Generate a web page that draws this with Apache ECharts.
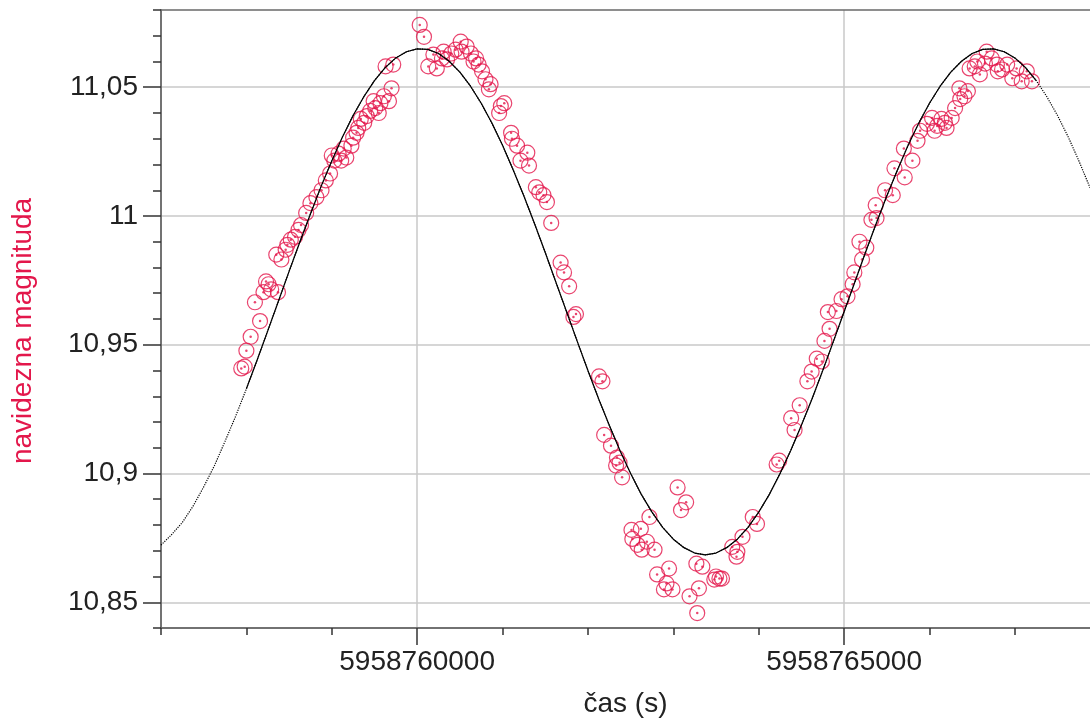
<!DOCTYPE html>
<html><head><meta charset="utf-8">
<script src="https://cdn.jsdelivr.net/npm/echarts@6/dist/echarts.min.js"></script>
<style>html,body{margin:0;padding:0;background:#fff}#c{width:1090px;height:726px}</style>
</head><body><div id="c"></div>
<script>
// observed points: time (s) and apparent magnitude
const obsTime = [
5958757940,5958757980,5958758000,5958758050,5958758160,5958758100,5958758200,5958758230,5958758290,5958758370,
5958758260,5958758410,5958758350,5958758460,5958758480,5958758520,5958758570,5958758610,5958758640,5958758700,
5958758750,5958758820,5958758880,5958758930,5958758980,5958759000,5958759030,5958759080,5958759110,5958759140,
5958759170,5958759230,5958759250,5958759290,5958759310,5958759340,5958759380,5958759410,5958759450,5958759490,
5958759510,5958759550,5958759570,5958759610,5958759670,5958759700,5958759630,5958759720,
5958760030,5958760080,5958760130,5958760230,5958760190,5958760290,5958760310,5958760350,5958760400,5958760450,
5958760510,5958760520,5958760580,5958760630,5958760660,5958760690,5958760720,5958760760,5958760800,5958760860,
5958760840,5958761020,5958760980,5958760960,5958761100,5958761110,5958761170,5958761290,5958761210,5958761310,
5958761390,5958761430,5958761480,5958761520,5958761570,5958761680,5958761720,5958761780,5958761860,5958761830,
5958762130,5958762170,5958762190,5958762270,5958762340,5958762370,5958762330,5958762400,5958763050,5958763150,
5958763090,5958762720,5958762510,5958762620,5958762520,5958762580,5958762690,5958762780,5958762630,5958763930,
5958763980,5958763810,5958763690,5958763750,5958763740,5958763270,5958763340,5958762950,5958762810,5958762920,
5958763500,5958763540,5958763570,5958763480,5958762890,5958762990,5958763300,5958763190,5958763280,
5958764210,5958764240,5958764380,5958764420,5958764480,5958764570,5958764620,5958764680,5958764740,5958764770,
5958764830,5958764810,5958764910,5958764970,5958765040,5958765100,5958765120,5958765210,5958765180,5958765260,
5958765320,5958765380,5958765370,5958765480,5958765570,5958765590,5958765710,5958765800,
5958765700,5958765860,5958765890,5958765970,5958766030,5958766060,5958766090,5958766140,5958766180,5958766200,
5958766260,5958766300,5958766360,5958766350,5958766410,5958766450,5958766470,5958766530,5958766560,5958766590,
5958766650,5958766670,5958766730,5958766790,5958766800,5958766850,5958766910,5958766970,5958767020,5958767080,
5958767140,5958767200
];
const obsMag = [
10.9408,10.9415,10.9477,10.9531,10.9592,10.9665,10.9704,10.9746,10.9715,10.9704,
10.9735,10.9831,10.9850,10.9869,10.9888,10.9908,10.9919,10.9946,10.9965,11.0012,
11.0050,11.0073,11.0100,11.0138,11.0165,11.0235,11.0215,11.0242,11.0215,11.0262,
11.0227,11.0273,11.0304,11.0323,11.0342,11.0377,11.0362,11.0388,11.0408,11.0446,
11.0419,11.0400,11.0438,11.0465,11.0446,11.0496,11.0581,11.0588,
11.0742,11.0696,11.0581,11.0573,11.0627,11.0612,11.0638,11.0608,11.0631,11.0646,
11.0677,11.0638,11.0658,11.0631,11.0600,11.0612,11.0588,11.0562,11.0531,11.0512,
11.0492,11.0438,11.0427,11.0400,11.0323,11.0300,11.0273,11.0246,11.0215,11.0196,
11.0112,11.0092,11.0081,11.0054,10.9973,10.9819,10.9781,10.9727,10.9619,10.9608,
10.9377,10.9358,10.9150,10.9108,10.9062,10.9042,10.9031,10.8985,10.8946,10.8888,
10.8858,10.8831,10.8781,10.8785,10.8746,10.8723,10.8735,10.8704,10.8704,10.8831,
10.8804,10.8754,10.8715,10.8696,10.8677,10.8650,10.8638,10.8631,10.8608,10.8573,
10.8600,10.8592,10.8592,10.8588,10.8550,10.8550,10.8554,10.8523,10.8458,
10.9035,10.9050,10.9215,10.9169,10.9265,10.9358,10.9396,10.9446,10.9435,10.9515,
10.9562,10.9627,10.9631,10.9677,10.9688,10.9735,10.9781,10.9831,10.9900,10.9877,
10.9985,10.9992,11.0042,11.0100,11.0081,11.0185,11.0150,11.0215,
11.0262,11.0292,11.0331,11.0358,11.0381,11.0331,11.0350,11.0377,11.0362,11.0342,
11.0381,11.0419,11.0454,11.0496,11.0465,11.0485,11.0573,11.0581,11.0600,11.0550,
11.0592,11.0638,11.0612,11.0588,11.0562,11.0569,11.0588,11.0535,11.0573,11.0523,
11.0562,11.0523
];
// fitted curve
const fitTime = [
5958757000,5958757125,5958757250,5958757375,5958757500,5958757625,5958757750,5958757875,
5958758000,5958758125,5958758250,5958758375,5958758500,5958758625,5958758750,5958758875,
5958759000,5958759125,5958759250,5958759375,5958759500,5958759625,5958759750,5958759875,
5958760000,5958760125,5958760250,5958760375,5958760500,5958760625,5958760750,5958760875,
5958761000,5958761125,5958761250,5958761375,5958761500,5958761625,5958761750,5958761875,
5958762000,5958762125,5958762250,5958762375,5958762500,5958762625,5958762750,5958762875,
5958763000,5958763125,5958763250,5958763375,5958763500,5958763625,5958763750,5958763875,
5958764000,5958764125,5958764250,5958764375,5958764500,5958764625,5958764750,5958764875,
5958765000,5958765125,5958765250,5958765375,5958765500,5958765625,5958765750,5958765875,
5958766000,5958766125,5958766250,5958766375,5958766500,5958766625,5958766750,5958766875,
5958767000,5958767125,5958767250,5958767375,5958767500,5958767625,5958767750,5958767880
];
const fitMag = [
10.8722,10.8763,10.8810,10.8873,10.8948,10.9030,10.9125,10.9223,
10.9329,10.9440,10.9554,10.9669,10.9785,10.9898,11.0008,11.0115,
11.0214,11.0307,11.0390,11.0463,11.0526,11.0576,11.0614,11.0638,
11.0649,11.0647,11.0631,11.0601,11.0559,11.0504,11.0438,11.0361,
11.0275,11.0179,11.0078,10.9970,10.9858,10.9743,10.9628,10.9513,
10.9400,10.9290,10.9187,10.9089,10.9000,10.8919,10.8850,10.8791,
10.8745,10.8712,10.8691,10.8684,10.8691,10.8712,10.8745,10.8791,
10.8850,10.8919,10.9000,10.9089,10.9187,10.9290,10.9400,10.9513,
10.9628,10.9743,10.9858,10.9970,11.0078,11.0179,11.0275,11.0361,
11.0438,11.0504,11.0559,11.0601,11.0631,11.0647,11.0649,11.0638,
11.0614,11.0576,11.0526,11.0463,11.0390,11.0307,11.0214,11.0110
];
const fitSolidFrom = 5958758000;
const fitSolidTo = 5958767250;
// axes
const xMin = 5958757000, xMax = 5958767880;
const yMin = 10.84, yMax = 11.08;
const xMajorTicks = [5958760000, 5958765000];
const xMinorTicks = [5958757000,5958758000,5958759000,5958760000,5958761000,5958762000,5958763000,5958764000,5958765000,5958766000,5958767000];
const yMajorTicks = [10.85, 10.9, 10.95, 11, 11.05];
const yMinorTicks = [10.84,10.85,10.86,10.87,10.88,10.89,10.9,10.91,10.92,10.93,10.94,10.95,10.96,10.97,10.98,10.99,11,11.01,11.02,11.03,11.04,11.05,11.06,11.07,11.08];
const xTitle = 'čas (s)';
const yTitle = 'navidezna magnituda';

const RED = '#e3174b';
const FONT = '"Liberation Sans", Arial, sans-serif';
const gridBox = {left:161, right:0, top:10, bottom:98, containLabel:false, outerBoundsMode:'none'};
const axisLineStyle = {color:'#6a6a6a', width:1.5};

const chart = echarts.init(document.getElementById('c'), null, {renderer:'canvas'});
const pairs = (ts, vs) => ts.map((t,i)=>[t, vs[i]]);
chart.setOption({
  animation:false,
  backgroundColor:'#ffffff',
  grid:[Object.assign({}, gridBox), Object.assign({}, gridBox)],
  xAxis:[
    {type:'value', gridIndex:0, min:xMin, max:xMax, position:'bottom',
     axisLine:{show:true, onZero:false, lineStyle:axisLineStyle},
     axisTick:{show:true, customValues:xMinorTicks, length:7, lineStyle:{color:'#333', width:1.5}},
     axisLabel:{show:false}, splitLine:{show:false}},
    {type:'value', gridIndex:1, min:xMin, max:xMax, position:'bottom',
     name:xTitle, nameLocation:'middle', nameGap:62, nameMoveOverlap:false,
     nameTextStyle:{color:'#222', fontSize:28, fontFamily:FONT},
     axisLine:{show:true, onZero:false, lineStyle:axisLineStyle},
     axisTick:{show:true, customValues:xMajorTicks, length:17, lineStyle:{color:'#333', width:1.5}},
     axisLabel:{show:true, customValues:xMajorTicks, margin:20, color:'#222', fontSize:28, fontFamily:FONT,
       formatter:v=>String(v)},
     splitLine:{show:true, lineStyle:{color:'#c8c8c8', width:1.5}}},
    {type:'value', gridIndex:1, min:xMin, max:xMax, position:'top',
     axisLine:{show:true, onZero:false, lineStyle:axisLineStyle},
     axisTick:{show:false}, axisLabel:{show:false}, splitLine:{show:false}}
  ],
  yAxis:[
    {type:'value', gridIndex:0, min:yMin, max:yMax, position:'left',
     axisLine:{show:true, onZero:false, lineStyle:axisLineStyle},
     axisTick:{show:true, customValues:yMinorTicks, length:8, lineStyle:{color:'#333', width:1.5}},
     axisLabel:{show:false}, splitLine:{show:false}},
    {type:'value', gridIndex:1, min:yMin, max:yMax, position:'left',
     name:yTitle, nameLocation:'middle', nameGap:124, nameMoveOverlap:false,
     nameTextStyle:{color:RED, fontSize:28, fontFamily:FONT, padding:[0,24,0,0]},
     axisLine:{show:true, onZero:false, lineStyle:axisLineStyle},
     axisTick:{show:true, customValues:yMajorTicks, length:18, lineStyle:{color:'#333', width:1.5}},
     axisLabel:{show:true, customValues:yMajorTicks, margin:23, color:'#222', fontSize:28, fontFamily:FONT,
       formatter:v=>String(Math.round(v*100)/100).replace('.', ',')},
     splitLine:{show:true, lineStyle:{color:'#c8c8c8', width:1.5}}}
  ],
  series:[
    {type:'scatter', xAxisIndex:1, yAxisIndex:1, data:pairs(obsTime, obsMag), symbol:'circle', symbolSize:15,
     itemStyle:{color:'rgba(0,0,0,0)', borderColor:RED, borderWidth:1.2}, silent:true, z:2},
    {type:'scatter', xAxisIndex:1, yAxisIndex:1, data:pairs(obsTime, obsMag), symbol:'circle', symbolSize:2.5,
     itemStyle:{color:RED}, silent:true, z:2},
    {type:'line', xAxisIndex:1, yAxisIndex:1, data:pairs(fitTime, fitMag), smooth:false, symbol:'none',
     lineStyle:{color:'#000', width:1.2, type:'dotted'}, silent:true, z:3},
    {type:'line', xAxisIndex:1, yAxisIndex:1,
     data:pairs(fitTime, fitMag).filter(p=>p[0]>=fitSolidFrom && p[0]<=fitSolidTo), smooth:false, symbol:'none',
     lineStyle:{color:'#000', width:1.2}, silent:true, z:4}
  ]
});
</script></body></html>
